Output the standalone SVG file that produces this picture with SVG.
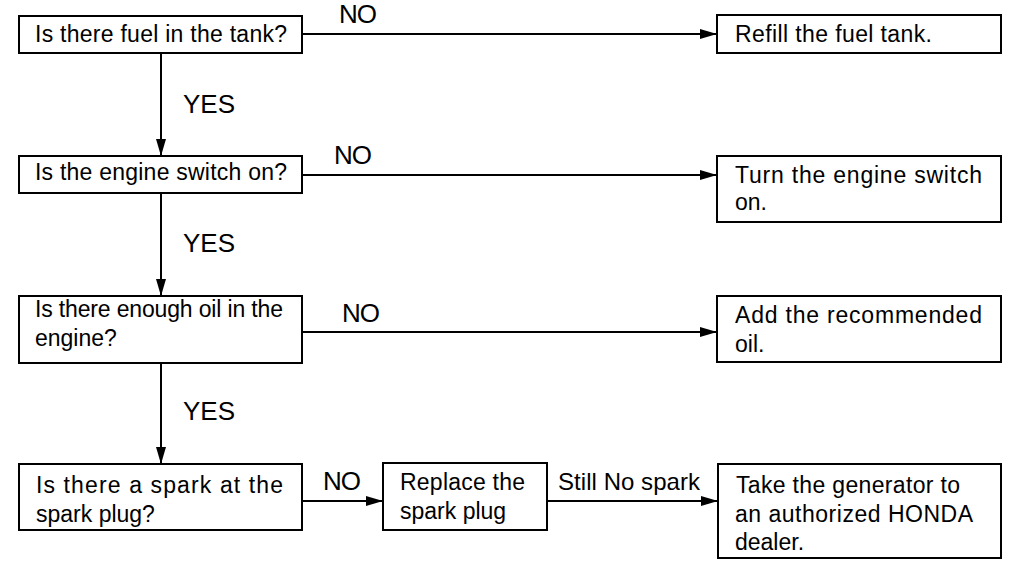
<svg xmlns="http://www.w3.org/2000/svg" width="1009" height="561" viewBox="0 0 1009 561">
<defs>
<marker id="arr" markerUnits="userSpaceOnUse" markerWidth="18" markerHeight="10" refX="17" refY="5" orient="auto">
<path d="M0,0 L17,5 L0,10 Z" fill="#000"/>
</marker>
<style>
.box{fill:#fff;stroke:#000;stroke-width:2}
.t{font-family:"Liberation Sans",Arial,sans-serif;font-size:23px;fill:#000}
.lbl{font-family:"Liberation Sans",Arial,sans-serif;font-size:26px;fill:#000}
.sm{font-family:"Liberation Sans",Arial,sans-serif;font-size:24px;fill:#000}
.c{fill:none;stroke:#000;stroke-width:2;marker-end:url(#arr)}
</style>
</defs>
<rect width="1009" height="561" fill="#fff"/>
<g id="connectors">
<line class="c" x1="302" y1="34" x2="717" y2="34"/>
<line class="c" x1="302" y1="175" x2="717" y2="175"/>
<line class="c" x1="302" y1="332" x2="717" y2="332"/>
<line class="c" x1="302" y1="501" x2="383" y2="501"/>
<line class="c" x1="547" y1="501" x2="718" y2="501"/>
<line class="c" x1="161" y1="53" x2="161" y2="156"/>
<line class="c" x1="161" y1="193" x2="161" y2="296"/>
<line class="c" x1="161" y1="363" x2="161" y2="464"/>
<text class="lbl" x="339" y="23" textLength="38">NO</text>
<text class="lbl" x="334" y="164" textLength="38">NO</text>
<text class="lbl" x="342" y="322" textLength="38">NO</text>
<text class="lbl" x="323" y="490" textLength="38">NO</text>
<text class="lbl" x="183" y="113" textLength="52">YES</text>
<text class="lbl" x="183" y="252" textLength="52">YES</text>
<text class="lbl" x="183" y="420" textLength="52">YES</text>
<text class="sm" x="558" y="490" textLength="142">Still No spark</text>
</g>
<g id="q1">
<rect class="box" x="19" y="16" width="283" height="37"/>
<text class="t" x="35" y="42" textLength="252">Is there fuel in the tank?</text>
</g>
<g id="q2">
<rect class="box" x="19" y="156" width="283" height="37"/>
<text class="t" x="35" y="180" textLength="252">Is the engine switch on?</text>
</g>
<g id="q3">
<rect class="box" x="19" y="296" width="283" height="67"/>
<text class="t" x="35" y="317" textLength="248">Is there enough oil in the</text>
<text class="t" x="35" y="346">engine?</text>
</g>
<g id="q4">
<rect class="box" x="19" y="464" width="283" height="66"/>
<text class="t" x="36" y="493" textLength="247">Is there a spark at the</text>
<text class="t" x="36" y="522">spark plug?</text>
</g>
<g id="a1">
<rect class="box" x="717" y="15" width="284" height="38"/>
<text class="t" x="735" y="42" textLength="197">Refill the fuel tank.</text>
</g>
<g id="a2">
<rect class="box" x="717" y="156" width="284" height="66"/>
<text class="t" x="735" y="183" textLength="247">Turn the engine switch</text>
<text class="t" x="735" y="210">on.</text>
</g>
<g id="a3">
<rect class="box" x="717" y="296" width="284" height="66"/>
<text class="t" x="735" y="323" textLength="247">Add the recommended</text>
<text class="t" x="735" y="352">oil.</text>
</g>
<g id="replace">
<rect class="box" x="383" y="463" width="164" height="67"/>
<text class="t" x="400" y="490" textLength="125">Replace the</text>
<text class="t" x="400" y="519">spark plug</text>
</g>
<g id="dealer">
<rect class="box" x="718" y="464" width="283" height="94"/>
<text class="t" x="736" y="493" textLength="224">Take the generator to</text>
<text class="t" x="735" y="522" textLength="238">an authorized HONDA</text>
<text class="t" x="735" y="550">dealer.</text>
</g>
</svg>
